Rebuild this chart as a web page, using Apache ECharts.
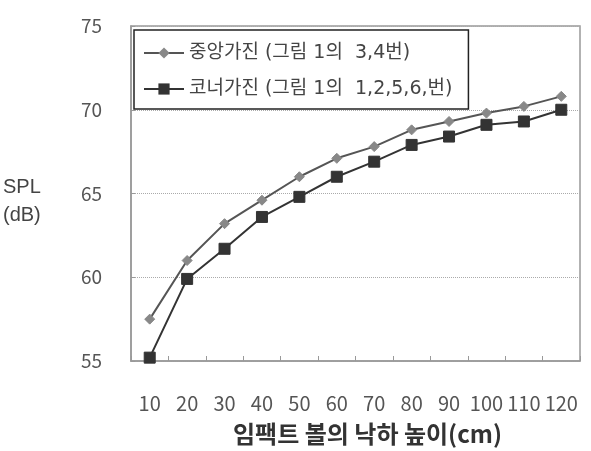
<!DOCTYPE html>
<html>
<head>
<meta charset="utf-8">
<script src="https://cdn.jsdelivr.net/npm/echarts@6/dist/echarts.min.js"></script>
<style>
  html, body { margin: 0; padding: 0; background: #fff; }
  #chart { width: 591px; height: 451px; }
</style>
</head>
<body>
<div id="chart"></div>
<script>
const heights = ['10', '20', '30', '40', '50', '60', '70', '80', '90', '100', '110', '120']

const centerSeriesName = '중앙가진 (그림 1의  3,4번)'
const centerValues = [57.5, 61.0, 63.2, 64.6, 66.0, 67.1, 67.8, 68.8, 69.3, 69.8, 70.2, 70.8]

const cornerSeriesName = '코너가진 (그림 1의  1,2,5,6,번)'
const cornerValues = [55.2, 59.9, 61.7, 63.6, 64.8, 66.0, 66.9, 67.9, 68.4, 69.1, 69.3, 70.0]

const yTicks = { min: 55, max: 75, interval: 5 }

const FONT = '"Noto Sans CJK KR", "Noto Sans", sans-serif'
const LEGEND_FONT = '"DejaVu Sans", "Noto Sans CJK KR", sans-serif'

const chart = echarts.init(document.getElementById('chart'))

chart.setOption({
  animation: false,
  backgroundColor: '#fff',
  textStyle: { fontFamily: FONT },
  grid: {
    left: 131,
    right: 11,
    top: 26,
    bottom: 90,
    show: true,
    borderColor: '#999',
    borderWidth: 1.5
  },
  legend: {
    left: 134,
    top: 30,
    orient: 'vertical',
    padding: [12, 16, 9, 9],
    itemGap: 14,
    itemWidth: 40,
    itemHeight: 14,
    backgroundColor: '#fff',
    borderColor: '#222',
    borderWidth: 1.5,
    textStyle: { fontSize: 19, lineHeight: 22, color: '#444', fontFamily: LEGEND_FONT },
    data: [centerSeriesName, cornerSeriesName]
  },
  graphic: [
    {
      type: 'text',
      left: 3,
      top: 173,
      style: {
        text: 'SPL\n(dB)',
        font: '20px "Liberation Sans", Arial, sans-serif',
        fill: '#444',
        lineHeight: 28
      }
    }
  ],
  xAxis: {
    type: 'category',
    data: heights,
    boundaryGap: true,
    axisLine: { lineStyle: { color: '#999', width: 1.5 } },
    axisTick: { show: true, inside: true, length: 5, lineStyle: { color: '#999' } },
    axisLabel: { margin: 32, fontSize: 20, color: '#555', interval: 0 },
    name: '임팩트 볼의 낙하 높이(cm)',
    nameLocation: 'middle',
    nameGap: 61,
    nameTextStyle: { fontSize: 24, fontWeight: 'bold', color: '#333', padding: [0, 0, 0, 24] }
  },
  yAxis: {
    type: 'value',
    min: yTicks.min,
    max: yTicks.max,
    interval: yTicks.interval,
    axisLine: { show: true, lineStyle: { color: '#999', width: 1.5 } },
    axisTick: { show: true, inside: true, length: 4, lineStyle: { color: '#999' } },
    axisLabel: { margin: 29, fontSize: 19, color: '#555' },
    splitLine: { show: true, lineStyle: { color: '#aaa', type: 'dotted', width: 1 } }
  },
  series: [
    {
      name: centerSeriesName,
      type: 'line',
      data: centerValues,
      symbol: 'diamond',
      symbolSize: 10,
      lineStyle: { color: '#555', width: 2 },
      itemStyle: { color: '#888', borderColor: '#888' },
      z: 3
    },
    {
      name: cornerSeriesName,
      type: 'line',
      data: cornerValues,
      symbol: 'rect',
      symbolSize: 11,
      lineStyle: { color: '#333', width: 2 },
      itemStyle: { color: '#333', borderColor: '#333' },
      z: 2
    }
  ]
})
</script>
</body>
</html>
